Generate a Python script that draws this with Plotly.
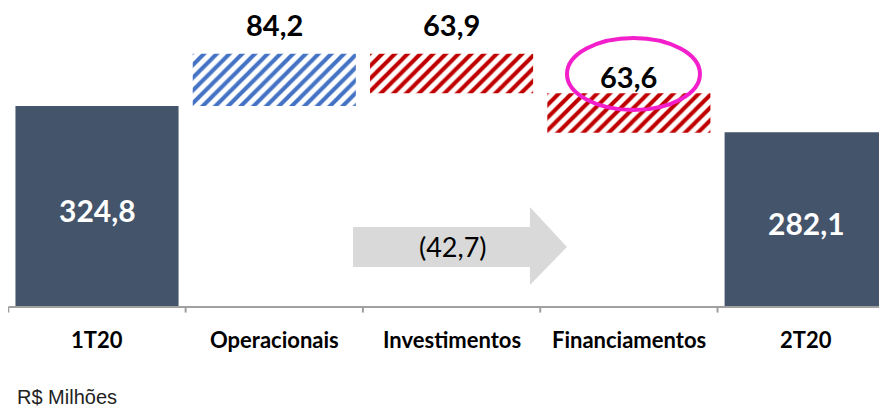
import plotly.graph_objects as go

categorias = ['1T20', 'Operacionais', 'Investimentos', 'Financiamentos', '2T20']
valores = [324.8, 84.2, -63.9, -63.6, 282.1]
rotulos = ['324,8', '84,2', '63,9', '63,6', '282,1']
variacao_texto = '(42,7)'
unidade = 'R$ Milhões'

azul_escuro = '#44546A'
azul = '#4472C4'
vermelho = '#C00000'

# bases da cascata
bases = []
acum = 0
for i, v in enumerate(valores):
    if i == 0 or i == len(valores) - 1:
        bases.append(0)
        acum = v
    elif v >= 0:
        bases.append(acum)
        acum += v
    else:
        acum += v
        bases.append(acum)
alturas = [abs(v) for v in valores]

xs = list(range(len(categorias)))
fig = go.Figure()

# totais
fig.add_trace(go.Bar(
    x=[xs[0], xs[-1]], y=[alturas[0], alturas[-1]], base=[0, 0],
    width=0.92, marker=dict(color=azul_escuro, line=dict(width=0)),
    showlegend=False, hoverinfo='skip'))

# variacoes hachuradas
cores = [azul, vermelho, vermelho]
for i in range(1, 4):
    fig.add_trace(go.Bar(
        x=[xs[i]], y=[alturas[i]], base=[bases[i]], width=0.92,
        marker=dict(color='white', line=dict(width=0),
                    pattern=dict(shape='/', fgcolor=cores[i - 1], bgcolor='white',
                                 size=9, solidity=0.45, fillmode='replace')),
        showlegend=False, hoverinfo='skip'))

fonte = 'Lato'

# rotulos internos dos totais
fig.add_annotation(x=xs[0], y=alturas[0] / 2 - 6, text='<b>' + rotulos[0] + '</b>',
                   showarrow=False, font=dict(family=fonte, size=30, color='white'))
fig.add_annotation(x=xs[-1], y=alturas[-1] / 2 - 6, text='<b>' + rotulos[-1] + '</b>',
                   showarrow=False, font=dict(family=fonte, size=30, color='white'))

# rotulos acima das variacoes
desloc = [29, 29, 17]
for i in range(1, 4):
    topo = bases[i] + alturas[i]
    fig.add_annotation(x=xs[i], y=topo, yshift=desloc[i - 1], text='<b>' + rotulos[i] + '</b>',
                       showarrow=False, yanchor='middle',
                       font=dict(family=fonte, size=29, color='black'))

# rotulos do eixo x
for i, c in enumerate(categorias):
    fig.add_annotation(x=xs[i], y=-53, text='<b>' + c + '</b>', showarrow=False,
                       yanchor='middle', font=dict(family=fonte, size=22, color='black'))

# linha do eixo e marcas
fig.add_shape(type='line', x0=-0.5, x1=4.6, y0=0, y1=0, line=dict(color='#A0A0A0', width=2))
for t in [-0.5, 0.5, 1.5, 2.5, 3.5]:
    fig.add_shape(type='line', x0=t, x1=t, y0=0, y1=-9, line=dict(color='#A0A0A0', width=2))

# seta cinza com variacao
seta = 'M 1.444 64.6 L 2.442 64.6 L 2.442 35.5 L 2.651 97 L 2.442 161.5 L 2.442 129 L 1.444 129 Z'
fig.add_shape(type='path', path=seta, fillcolor='#D9D9D9', line=dict(width=0), layer='below')
fig.add_annotation(x=2.01, y=97, text=variacao_texto, showarrow=False,
                   font=dict(family=fonte, size=27, color='black'))

# destaque
fig.add_shape(type='circle', x0=2.651, x1=3.401, y0=318.3, y1=434.6,
              line=dict(color='#F31FCB', width=4))

fig.add_annotation(x=-0.462, y=-145, text=unidade, showarrow=False,
                   xanchor='left', yanchor='middle',
                   font=dict(family='Liberation Sans, Arial', size=20, color='#222222'))

fig.update_layout(
    width=879, height=399,
    margin=dict(l=0, r=0, t=0, b=0),
    plot_bgcolor='white', paper_bgcolor='white',
    barmode='overlay',
    xaxis=dict(range=[-0.502, 4.456], visible=False),
    yaxis=dict(range=[-161.6, 483], visible=False),
)

fig.write_html("out.html")
